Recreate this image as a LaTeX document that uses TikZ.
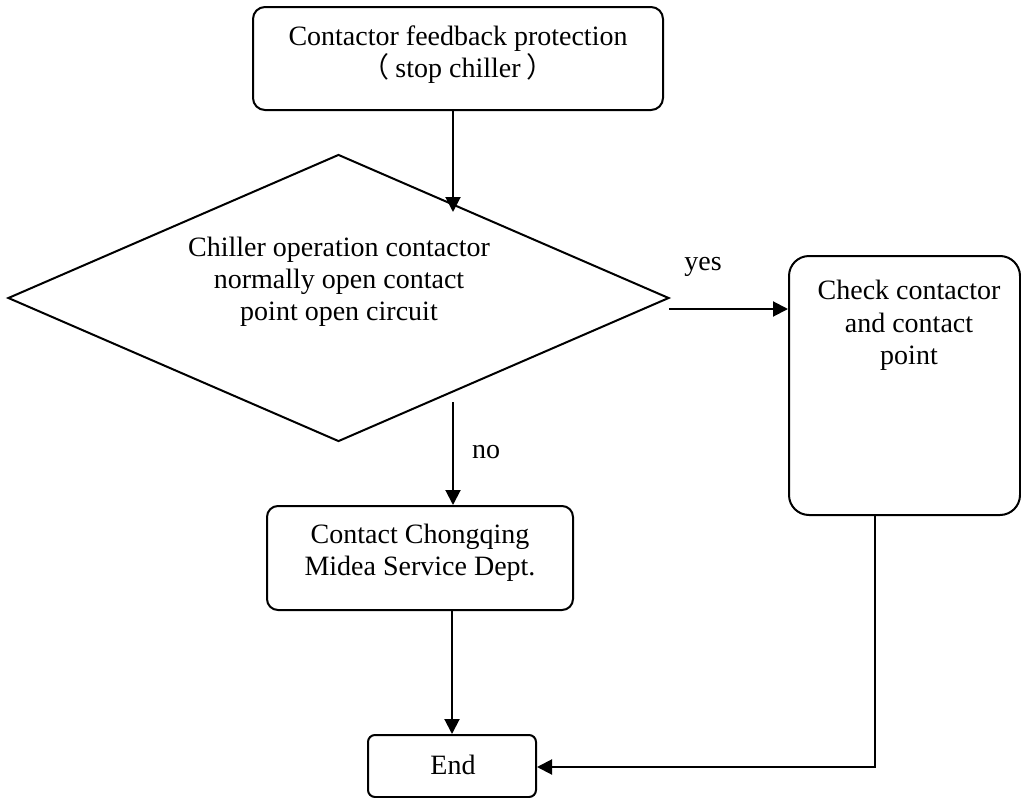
\documentclass[tikz,border=0pt]{standalone}
\usepackage{fontspec}
\setmainfont{Liberation Serif}
\newfontfamily\cjk{Noto Sans CJK SC}
\usetikzlibrary{shapes.geometric,arrows.meta}
\begin{document}
\begin{tikzpicture}[x=1pt,y=-1pt,
  every node/.style={font=\fontsize{28}{32}\selectfont, align=center, inner sep=0pt},
  box/.style={draw, line width=2pt, rounded corners=#1},
  arr/.style={line width=2pt, -{Triangle[length=15pt,width=15pt]}},
  lbl/.style={}]
\useasboundingbox (0,0) rectangle (1021,798);
% nodes
\node[box=12pt, minimum width=410pt, minimum height=103pt] (top) at (458,58.5) {};
\node (toptext) at (458,55) {Contactor feedback protection\\{\cjk （}\hspace{6pt}stop chiller\hspace{6pt}{\cjk ）}};
\node[draw, line width=2pt, shape=diamond, minimum width=661pt, minimum height=287pt] (dia) at (338.5,298) {};
\node (diatext) at (339,282) {Chiller operation contactor\\normally open contact\\point open circuit};
\node[box=20pt, minimum width=231pt, minimum height=259pt] (check) at (904.5,385.5) {};
\node[font=\fontsize{28}{32.5}\selectfont] (checktext) at (909,325.5) {Check contactor\\and contact\\point};
\node[box=11pt, minimum width=306pt, minimum height=104pt] (contact) at (420,558) {};
\node (contacttext) at (420,553) {Contact Chongqing\\Midea Service Dept.};
\node[box=7pt, minimum width=168pt, minimum height=62pt] (end) at (452,766) {};
\node (endtext) at (453,764.5) {End};
% free ends
\coordinate (c1) at (453,212);
\coordinate (yesS) at (669,309);
\coordinate (noS) at (453,402);
\coordinate (c5) at (875,767);
% connectors
\draw[arr] (top.south -| c1) -- (c1);
\draw[arr] (yesS) -- (check.west |- yesS);
\node[lbl] (yes) at (703,267) {yes};
\draw[arr] (noS) -- (contact.north -| noS);
\node[lbl] (no) at (486,452) {no};
\draw[arr] (contact.south -| end.north) -- (end.north);
\draw[arr] (check.south -| c5) -- (c5) -- (end.east |- c5);
\end{tikzpicture}
\end{document}
